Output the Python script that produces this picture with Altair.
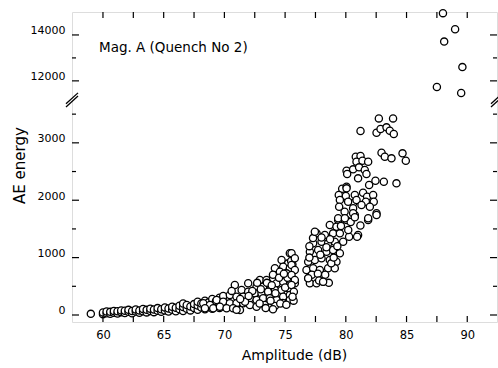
import altair as alt
import pandas as pd

# ---- data: amplitude (dB) and AE energy ----
amp = [
    59.0,
    60.0, 60.0, 60.3, 60.3, 60.6, 60.6, 60.9, 60.9, 61.2, 61.2, 61.5, 61.5, 61.8, 61.8,
    62.1, 62.1, 62.4, 62.4, 62.7, 62.7, 63.0, 63.0, 63.3, 63.3, 63.6, 63.6, 63.9, 63.9,
    64.2, 64.2, 64.5, 64.5, 64.8, 64.8, 65.1, 65.1, 65.4, 65.4, 65.7, 65.7, 66.0, 66.0,
    66.3, 66.3, 66.6, 66.6, 66.6, 66.9, 66.9, 67.2, 67.2, 67.5, 67.5, 67.8, 67.8, 67.8,
    68.1, 68.1, 68.4, 68.4, 68.4, 68.7, 68.7, 69.0, 69.0, 69.0, 69.3, 69.3, 69.6, 69.6,
    69.6, 69.9, 69.9, 69.9,
    # 70 - 76 dB
    75.39, 74.71, 75.25, 74.84, 75.39, 74.16, 74.57, 75.12, 71.96, 70.86, 72.92, 73.47,
    74.02, 72.65, 73.19, 73.74, 74.30, 74.84, 75.39, 71.42, 71.96, 72.51, 73.06, 73.60,
    74.16, 74.71, 75.25, 75.80, 70.45, 71.00, 71.55, 72.10, 72.65, 73.19, 73.74, 74.30,
    74.84, 75.39, 69.36, 69.90, 70.45, 71.00, 71.55, 72.10, 68.26, 68.81, 68.40, 69.08,
    69.63, 70.18, 70.72, 71.28, 72.65, 73.33, 74.16, 74.80, 75.39,
    73.0, 73.5, 74.0, 74.5, 75.0, 75.2, 75.6, 74.2, 73.8, 74.6, 75.1, 75.7, 72.3, 71.7,
    72.9, 73.4, 74.0, 71.0, 70.6, 71.3, 72.0, 72.7, 73.9, 74.9, 75.5,
    75.53, 75.80, 75.53, 75.80, 75.53, 75.80, 75.53, 75.72, 75.61,
    # 76.8 - 80 dB
    79.37, 80.06, 78.68, 79.23, 77.59, 78.27, 78.95, 79.51, 80.27, 81.01, 77.31, 78.00,
    78.54, 79.09, 79.78, 77.04, 77.72, 78.41, 78.95, 79.51, 76.90, 77.45, 78.00, 78.68,
    79.23, 76.76, 77.31, 77.86, 78.54, 79.09, 76.90, 77.45, 78.00, 77.04, 78.13, 77.59,
    77.2, 77.7, 78.3, 78.8, 77.0, 77.9, 78.4, 79.0, 79.3, 78.0, 78.7, 79.6, 80.2, 79.9,
    80.4, 81.2, 80.6, 79.7, 77.3, 77.0, 76.9, 77.8, 78.6, 77.45, 80.06, 80.93, 78.13,
    81.84, 82.53, 80.74,
    # 79 - 85 dB
    82.72, 83.89, 81.21, 82.53, 82.86, 83.35, 83.62, 83.95, 82.94, 83.21, 83.76, 84.67,
    84.94, 80.82, 81.21, 80.88, 81.37, 81.84, 80.06, 80.60, 81.09, 81.56, 80.11, 81.70,
    81.01, 81.92, 82.44, 83.13, 84.17, 80.06, 79.42, 80.00, 80.74, 81.42, 81.75, 82.25,
    79.51, 80.19, 80.88, 81.65, 82.30, 79.45, 80.60, 81.29, 81.98, 80.60, 82.53, 79.37,
    79.92, 80.74, 81.84,
    # upper segment
    88.0, 89.0, 88.1, 89.6, 87.5, 89.5,
]
energy = [
    20,
    15, 45, 30, 60, 20, 55, 40, 70, 25, 65, 50, 80, 35, 75,
    55, 90, 30, 70, 60, 95, 40, 80, 65, 105, 45, 90, 70, 110,
    50, 95, 75, 120, 55, 100, 80, 130, 60, 115, 90, 145, 65, 125,
    100, 160, 70, 140, 200, 110, 175, 80, 150, 120, 190, 90, 165, 230,
    130, 200, 100, 180, 250, 140, 220, 110, 190, 280, 150, 240, 120, 210,
    300, 160, 260, 330,
    1075, 958, 900, 841, 814, 814, 754, 726, 552, 523, 610, 610,
    639, 493, 493, 523, 552, 580, 610, 436, 406, 378, 378, 406,
    436, 436, 465, 552, 348, 319, 319, 291, 261, 291, 291, 261,
    319, 348, 261, 232, 204, 204, 204, 174, 204, 174, 117, 117,
    145, 117, 117, 87, 145, 174, 157, 209, 261,
    450, 560, 700, 650, 480, 650, 880, 380, 250, 200, 180, 250, 420, 230,
    200, 120, 100, 90, 420, 280, 330, 560, 520, 720, 940,
    1075, 988, 871, 784, 697, 610, 523, 406, 319,
    1655, 1655, 1568, 1538, 1423, 1394, 1423, 1423, 1364, 1394, 1249, 1277,
    1249, 1277, 1277, 1103, 1132, 1103, 1132, 1075, 928, 958, 988, 958,
    928, 784, 814, 784, 814, 814, 639, 639, 667, 552, 580, 552,
    700, 720, 700, 900, 1000, 1050, 1180, 1000, 1200, 1350, 1320, 1550, 1480, 1800,
    1620, 1560, 1950, 2200, 1340, 1200, 640, 600, 560, 1451, 2235, 1364, 580,
    1655, 1772, 1742,
    3426, 3426, 3205, 3176, 3240, 3270, 3210, 3153, 2827, 2758, 2730, 2817,
    2688, 2758, 2770, 2670, 2688, 2670, 2514, 2538, 2573, 2526, 2456, 2456,
    2381, 2265, 2340, 2322, 2294, 2207, 2090, 2073, 2090, 2130, 2061, 2090,
    2003, 1974, 2003, 1974, 1974, 1887, 1859, 1916, 1887, 1772, 1742, 1685,
    1685, 1702, 1685,
    14950, 14250, 13710, 12600, 11730, 11470,
]

y_major = [0, 1000, 2000, 3000, 12000, 14000]
y_minor = [500, 1500, 2500, 3500, 13000]
x_ticks = [60, 62.5, 65, 67.5, 70, 72.5, 75, 77.5, 80, 82.5, 85, 87.5, 90]
x_labels = [60, 65, 70, 75, 80, 85, 90]

# axis break: lower segment ends at 3748, upper resumes at 11170 (compressed)
BREAK_LO = 3748
BREAK_HI = 11170
FACTOR = 0.4
W, H = 425, 310
FONT = "DejaVu Sans"

calc = f"datum.v <= {BREAK_LO} ? datum.v : {BREAK_LO} + (datum.v - {BREAK_HI}) * {FACTOR}"
ydom = [-122, BREAK_LO + (15000 - BREAK_HI) * FACTOR]
yscale = alt.Scale(domain=ydom, nice=False, zero=False)
xscale = alt.Scale(domain=[57.45, 92.45], nice=False, zero=False)

df = pd.DataFrame({"a": amp, "v": energy})
major_vals = [BREAK_LO + (v - BREAK_HI) * FACTOR if v > BREAK_LO else v for v in y_major]

label_expr = (f"datum.value > {BREAK_LO} ? format(round((datum.value - {BREAK_LO}) / {FACTOR} + {BREAK_HI}), 'd') "
              f": format(datum.value, 'd')")

xaxis = alt.Axis(
    values=x_labels, title="Amplitude (dB)", domain=False, ticks=False, tickSize=0, grid=False,
    labelFont=FONT, labelFontSize=11.5, labelColor="black", labelPadding=7,
    titleFont=FONT, titleFontSize=14, titleFontWeight="normal", titleColor="black",
    titleX=222, titleY=33, titleBaseline="middle", titleAlign="center")
yaxis = alt.Axis(
    values=major_vals, labelExpr=label_expr, title="AE energy", domain=False, ticks=False,
    tickSize=0, grid=False, labelFont=FONT, labelFontSize=11, labelColor="black",
    labelPadding=7, labelOffset=-4,
    titleFont=FONT, titleFontSize=15, titleFontWeight="normal", titleColor="black",
    titleX=-53, titleY=153, titleBaseline="middle", titleAlign="center", titleAngle=270)

points = alt.Chart(df).transform_calculate(yp=calc).mark_point(
    shape="circle", filled=True, fill="white", stroke="black", strokeWidth=1.3, size=52, opacity=1
).encode(
    x=alt.X("a:Q", scale=xscale, axis=xaxis),
    y=alt.Y("yp:Q", scale=yscale, axis=yaxis),
)

ymaj = pd.DataFrame({"v": y_major})
ymin = pd.DataFrame({"v": y_minor})


def yticks(data, x0, x1):
    return alt.Chart(data).transform_calculate(yp=calc).mark_rule(color="black", strokeWidth=1.2).encode(
        y=alt.Y("yp:Q", scale=yscale, axis=yaxis), x=alt.value(x0), x2=alt.value(x1))


xt = pd.DataFrame({"a": x_ticks})


def xticks(y0, y1):
    return alt.Chart(xt).mark_rule(color="black", strokeWidth=1.2).encode(
        x=alt.X("a:Q", scale=xscale, axis=xaxis), y=alt.value(y0), y2=alt.value(y1))


# break markers on the left and right frame lines
brk = pd.DataFrame({"b": [BREAK_LO]})


def gap(x0, x1):
    return alt.Chart(brk).transform_calculate(lo="datum.b - 28", hi="datum.b + 28").mark_rect(
        color="white").encode(
        y=alt.Y("lo:Q", scale=yscale, axis=yaxis), y2="hi:Q", x=alt.value(x0), x2=alt.value(x1))


def slash(xc, off):
    return alt.Chart(brk).transform_calculate(
        lo=f"datum.b - 95 + {off}", hi=f"datum.b + 95 + {off}").mark_rule(
        color="black", strokeWidth=1.3).encode(
        y=alt.Y("lo:Q", scale=yscale, axis=yaxis), y2="hi:Q",
        x=alt.value(xc - 6), x2=alt.value(xc + 6))


label = alt.Chart(pd.DataFrame({"t": ["Mag. A (Quench No 2)"]})).mark_text(
    font=FONT, fontSize=13.5, align="left", baseline="middle", color="black"
).encode(text="t:N", x=alt.value(27), y=alt.value(36))

chart = alt.layer(
    points,
    yticks(ymaj, 0, 7), yticks(ymin, 0, 4),
    yticks(ymaj, W - 7, W), yticks(ymin, W - 4, W),
    xticks(H - 6, H), xticks(0, 6),
    gap(-3, 3), gap(W - 3, W + 3),
    slash(0, -28), slash(0, 28), slash(W, -28), slash(W, 28),
    label,
).properties(
    width=W, height=H,
    autosize=alt.AutoSizeParams(type="none"),
    padding={"left": 72, "top": 12, "right": 1, "bottom": 46},
).configure_view(stroke="black", strokeWidth=1.4).configure(background="white")

chart.save("out.html", embed_options={"renderer": "svg", "actions": False})
